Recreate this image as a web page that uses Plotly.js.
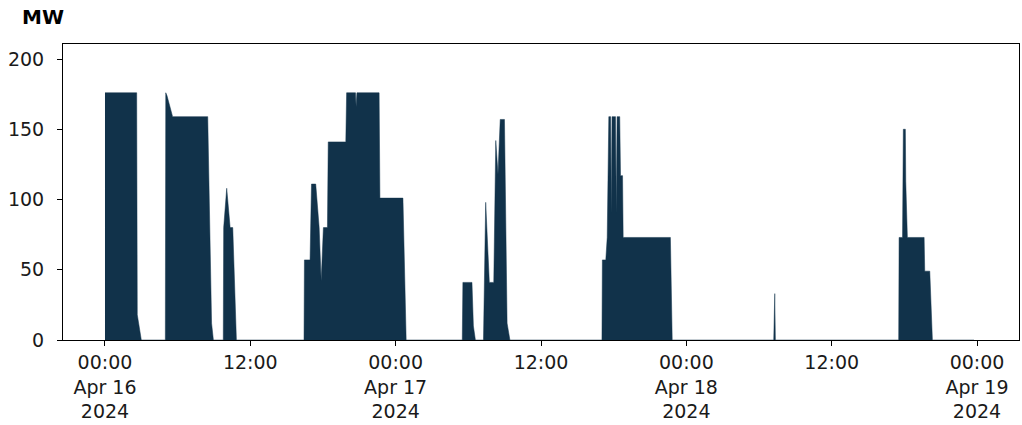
<!DOCTYPE html>
<html>
<head>
<meta charset="utf-8">
<script src="https://cdn.plot.ly/plotly-3.0.1.min.js"></script>
<style>html,body{margin:0;padding:0;background:#fff;}#chart{width:1022px;height:425px;}</style>
</head>
<body>
<div id="chart"></div>
<script>
const times = [
  "2024-04-16 00:00","2024-04-16 02:37","2024-04-16 02:40","2024-04-16 02:47","2024-04-16 03:00",
  "2024-04-16 04:59","2024-04-16 05:01","2024-04-16 05:07","2024-04-16 05:35","2024-04-16 08:29","2024-04-16 08:48","2024-04-16 08:57",
  "2024-04-16 09:46","2024-04-16 09:48","2024-04-16 10:03","2024-04-16 10:20","2024-04-16 10:33","2024-04-16 10:51",
  "2024-04-16 16:26","2024-04-16 16:28","2024-04-16 16:56","2024-04-16 17:03","2024-04-16 17:24","2024-04-16 17:41","2024-04-16 17:51",
  "2024-04-16 18:02","2024-04-16 18:22","2024-04-16 18:26","2024-04-16 19:53","2024-04-16 19:57","2024-04-16 20:41","2024-04-16 20:44",
  "2024-04-16 20:48","2024-04-16 22:38","2024-04-16 22:42","2024-04-17 00:36","2024-04-17 00:52",
  "2024-04-17 05:30","2024-04-17 05:33","2024-04-17 06:18","2024-04-17 06:25","2024-04-17 06:35",
  "2024-04-17 07:15","2024-04-17 07:26","2024-04-17 07:44","2024-04-17 08:06","2024-04-17 08:16","2024-04-17 08:27","2024-04-17 08:38",
  "2024-04-17 08:59","2024-04-17 09:12","2024-04-17 09:26",
  "2024-04-17 17:02","2024-04-17 17:04","2024-04-17 17:21","2024-04-17 17:28","2024-04-17 17:36","2024-04-17 17:45","2024-04-17 17:48",
  "2024-04-17 17:52","2024-04-17 18:09","2024-04-17 18:13","2024-04-17 18:17","2024-04-17 18:30","2024-04-17 18:34","2024-04-17 18:44",
  "2024-04-17 18:47","2024-04-17 22:41","2024-04-17 22:50",
  "2024-04-18 07:13","2024-04-18 07:16","2024-04-18 07:18","2024-04-18 07:21",
  "2024-04-18 17:32","2024-04-18 17:34","2024-04-18 17:51","2024-04-18 17:55","2024-04-18 18:05","2024-04-18 18:07","2024-04-18 18:15",
  "2024-04-18 19:38","2024-04-18 19:41","2024-04-18 20:06","2024-04-18 20:19","2024-04-18 23:45"
];
const mw = [
  176,176,18,12,0,
  0,176,174,159,159,12,0,
  0,80,108,80,80,0,
  0,57,57,111,111,80,42,
  80,80,141,141,176,176,166,
  176,176,101,101,0,
  0,41,41,10,0,
  0,98,41,41,142,118,157,
  157,12,0,
  0,57,57,73,159,159,90,
  159,159,90,159,159,117,117,
  73,73,0,
  0,33,33,0,
  0,73,73,150,150,113,73,
  73,49,49,0,0
];
const tickTimes = ["2024-04-16 00:00","2024-04-16 12:00","2024-04-17 00:00","2024-04-17 12:00","2024-04-18 00:00","2024-04-18 12:00","2024-04-19 00:00"];
const tickLabels = ["00:00<br>Apr 16<br>2024","12:00","00:00<br>Apr 17<br>2024","12:00","00:00<br>Apr 18<br>2024","12:00","00:00<br>Apr 19<br>2024"];
const yTicks = [0,50,100,150,200];

const fillColor = "#11324a";
const font = {family: "DejaVu Sans, sans-serif", size: 19, color: "#1a1a1a"};

Plotly.newPlot("chart", [{
  x: times, y: mw, type: "scatter", mode: "lines",
  fill: "tozeroy", fillcolor: fillColor,
  line: {color: fillColor, width: 0.5, shape: "linear"},
  hoverinfo: "x+y"
}], {
  width: 1022, height: 425,
  margin: {l: 63, r: 3, t: 44, b: 85},
  paper_bgcolor: "#fff", plot_bgcolor: "#fff",
  showlegend: false,
  font: font,
  xaxis: {
    type: "date",
    range: ["2024-04-15 20:32", "2024-04-19 03:28"],
    tickmode: "array", tickvals: tickTimes, ticktext: tickLabels,
    ticks: "outside", ticklen: 5, tickcolor: "#000", tickwidth: 1,
    showline: true, linecolor: "#000", linewidth: 1, mirror: true,
    showgrid: false, zeroline: false, tickfont: font
  },
  yaxis: {
    range: [0, 210.7],
    tickmode: "array", tickvals: yTicks,
    ticks: "outside", ticklen: 5, tickcolor: "#000", tickwidth: 1,
    ticklabelstandoff: 9,
    showline: true, linecolor: "#000", linewidth: 1, mirror: true,
    showgrid: false, zeroline: false, tickfont: font
  },
  annotations: [{
    text: "<b>MW</b>", xref: "paper", yref: "paper",
    x: -43/956, y: 1.138, xanchor: "left", yanchor: "top", showarrow: false,
    font: {family: "DejaVu Sans, sans-serif", size: 20, color: "#000"}
  }]
}, {displayModeBar: false, staticPlot: true});
</script>
</body>
</html>
